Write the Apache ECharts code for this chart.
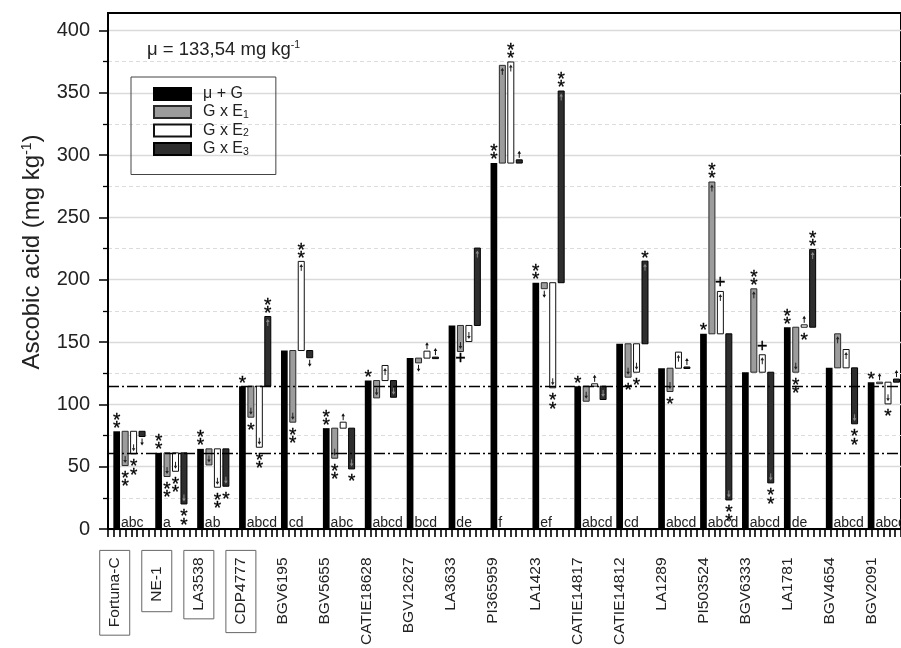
<!DOCTYPE html>
<html><head><meta charset="utf-8">
<script src="https://cdn.jsdelivr.net/npm/echarts@6/dist/echarts.min.js"></script>
<style>html,body{margin:0;padding:0;background:#fff}#c{width:901px;height:648px}</style>
</head><body><div id="c"></div><script>
// ---------------- data ----------------
const genotypes = ['Fortuna-C','NE-1','LA3538','CDP4777','BGV6195','BGV5655','CATIE18628','BGV12627','LA3633','PI365959','LA1423','CATIE14817','CATIE14812','LA1289','PI503524','BGV6333','LA1781','BGV4654','BGV2091'];
const checks = ['Fortuna-C','NE-1','LA3538','CDP4777'];
// mu + G (mg/kg)
const muG  = [78.4, 61.1, 64.3, 114.6, 143.2, 80.9, 119.1, 137.1, 163.3, 293.6, 197.6, 114.6, 148.6, 129.0, 156.6, 125.8, 161.9, 129.3, 117.8];
// G x E deviations from mu + G
const gxe1 = [-27.5, -19.0, -12.9, -24.9, -57.5, -24.1, -13.9, -3.8, -20.9, 78.4, -4.8, -12.1, -26.8, -18.7, 121.8, 66.9, -36.1, 27.3, 0];
const gxe2 = [-18.1, -14.8, -30.8, -49.0, 71.5, 4.8, 12.1, 5.6, -12.9, 81.1, -84.3, 1.9, -22.8, 12.9, 34.0, 14.0, 1.9, 14.7, -17.4];
const gxe3 = [-4.2, -41.0, -30.0, 55.9, -5.8, -32.7, -13.4, 0.8, 62.1, 2.6, 153.8, -10.7, 66.3, 1.0, -133.3, -88.8, 62.4, -44.9, 2.5];
// significance marks
const sigG = ['**','**','**','*','','**','*','','','**','**','*','','','*','','**','','*'];
const sig1 = ['**','**','','*','**','**','','','+','','','','*','*','**','**','**','',''];
const sig2 = ['**','**','**','**','**','','','','','**','**','','*','','+','+','*','','*'];
const sig3 = ['','**','*','**','','*','','','','','**','','*','','**','**','**','**',''];
// Tukey groups
const groups = ['abc','a','ab','abcd','cd','abc','abcd','bcd','de','f','ef','abcd','cd','abcd','abcd','abcd','de','abcd','abcd'];
// reference lines (check genotypes NE-1 and CDP4777)
const refLines = [muG[1], muG[3]];
const yTickValues = [0, 50, 100, 150, 200, 250, 300, 350, 400];
const yMinorTickValues = [25, 75, 125, 175, 225, 275, 325, 375];
const muText = 'μ = 133,54 mg kg';

// ---------------- layout / style ----------------
const FONT = 'Liberation Sans, Arial, Helvetica, sans-serif';
const GROUP0 = 1.49, GROUP_STEP = 7.188, BAR_STEP = 1.45;
const BAR_W = [1.15, 1.03, 1.03, 1.03];
const STAR_SIZE = 19;

const seriesDefs = [
  {name: 'μ + G',  vals: muG,  sig: sigG, fill: '#000000', stroke: '#000000', arrow: '#000'},
  {name: 'G x E1', vals: gxe1, sig: sig1, fill: '#9c9c9c', stroke: '#2a2a2a', arrow: '#222'},
  {name: 'G x E2', vals: gxe2, sig: sig2, fill: '#ffffff', stroke: '#111111', arrow: '#222'},
  {name: 'G x E3', vals: gxe3, sig: sig3, fill: '#2e2e2e', stroke: '#000000', arrow: '#8a8a8a'}
];

function textEl(t, x, y, size) {
  return {type: 'text', x: x, y: y, z2: 5, style: {text: t, fontFamily: FONT, fontSize: size, fill: '#000', stroke: '#000', lineWidth: 0.3, align: 'center', verticalAlign: 'middle'}};
}
function marks(str, cx, yEdge, dir) {
  const out = [];
  if (!str) return out;
  if (str === '+') {
    out.push(textEl('+', cx, dir < 0 ? yEdge - 8 : yEdge + 7.5, 18));
  } else {
    for (let j = 0; j < str.length; j++) {
      const cy = dir < 0 ? yEdge - 7 - 8 * j : yEdge + 9 + 8.5 * j;
      out.push(textEl('*', cx, cy + 0.22 * STAR_SIZE, STAR_SIZE));
    }
  }
  return out;
}
function arrowEls(cx, yTip, dir, len, color) {
  const yTail = yTip - dir * len;
  return [
    {type: 'line', z2: 4, shape: {x1: cx, y1: yTail, x2: cx, y2: yTip - dir * 1.5}, style: {stroke: color, lineWidth: 1}},
    {type: 'polygon', z2: 4, shape: {points: [[cx - 1.8, yTip - dir * 3], [cx + 1.8, yTip - dir * 3], [cx, yTip]]}, style: {fill: color}}
  ];
}

function buildRender(k) {
  const def = seriesDefs[k];
  return function (params, api) {
    const i = params.dataIndex;
    const xv = api.value(0), v0 = api.value(1), v1 = api.value(2);
    const pStart = api.coord([xv, v0]);
    const pEnd = api.coord([xv, v1]);
    const w = api.size([BAR_W[k], 0])[0];
    const cx = pStart[0];
    const yTop = Math.min(pStart[1], pEnd[1]);
    const hpx = Math.abs(pStart[1] - pEnd[1]);
    const children = [{type: 'rect', shape: {x: cx - w / 2, y: yTop, width: w, height: Math.max(hpx, 1.5)},
      style: {fill: def.fill, stroke: def.stroke, lineWidth: k === 0 ? 0 : 1}}];
    const sig = def.sig[i];
    if (k === 0) {
      children.push(...marks(sig, cx, pEnd[1], -1));
      children.push({type: 'text', x: cx + w / 2 + 1, y: pStart[1] + 1, z2: 3,
        style: {text: groups[i], fontFamily: FONT, fontSize: 14, fill: '#222', align: 'left', verticalAlign: 'bottom'}});
    } else {
      const dir = v1 >= v0 ? -1 : 1;
      if (hpx < 8) {
        children.push(...arrowEls(cx, pEnd[1] + dir * 9, dir, 7, '#111'));
        children.push(...marks(sig, cx, pStart[1], -dir));
      } else {
        children.push(...arrowEls(cx, pEnd[1] - dir * 2.5, dir, Math.min(7, hpx - 4), def.arrow));
        children.push(...marks(sig, cx, pEnd[1], dir));
      }
    }
    return {type: 'group', children: children};
  };
}

const series = seriesDefs.map(function (def, k) {
  const data = def.vals.map(function (v, i) {
    const x = GROUP0 + i * GROUP_STEP + k * BAR_STEP;
    return k === 0 ? [x, 0, v] : [x, muG[i], muG[i] + v];
  });
  const s = {
    type: 'custom', name: def.name, xAxisIndex: 0, yAxisIndex: 0,
    renderItem: buildRender(k), data: data, encode: {x: 0, y: [1, 2]},
    itemStyle: {color: def.fill, borderColor: def.stroke, borderWidth: 1},
    clip: false, z: 3
  };
  if (k === 0) {
    s.markLine = {
      silent: true, symbol: ['none', 'none'], label: {show: false}, animation: false,
      lineStyle: {color: '#000', width: 1.3, type: [11, 3, 2, 3]},
      data: refLines.map(function (v) { return {yAxis: v}; })
    };
  }
  return s;
});

const chart = echarts.init(document.getElementById('c'), null, {renderer: 'canvas'});
chart.setOption({
  animation: false,
  backgroundColor: '#fff',
  title: {
    text: '{a|' + muText + '}{b|-1}', left: 147, top: 40, padding: 0,
    textStyle: {fontWeight: 'normal', rich: {
      a: {fontFamily: FONT, fontSize: 18.5, fontWeight: 'normal', color: '#222'},
      b: {fontFamily: FONT, fontSize: 10.5, fontWeight: 'normal', color: '#222', verticalAlign: 'top'}
    }}
  },
  legend: {
    orient: 'vertical', left: 131, top: 77, icon: 'rect',
    itemWidth: 37, itemHeight: 12, itemGap: 2,
    padding: [9, 27, 17, 22],
    borderColor: '#444', borderWidth: 1,
    data: seriesDefs.map(function (d) { return d.name; }),
    formatter: function (name) {
      const m = name.match(/^(G x E)(\d)$/);
      return m ? '{t|' + m[1] + '}{s|' + m[2] + '}' : '{t|' + name + '}';
    },
    textStyle: {color: '#222', fontFamily: FONT, fontSize: 16, rich: {
      t: {fontFamily: FONT, fontSize: 16, color: '#222', lineHeight: 17, padding: [0, 0, 0, 7]},
      s: {fontFamily: FONT, fontSize: 10.5, color: '#222', lineHeight: 17, verticalAlign: 'bottom'}
    }}
  },
  grid: [
    {left: 108, top: 13, width: 794.6, height: 516, show: true, borderColor: '#000', borderWidth: 2, backgroundColor: 'transparent'},
    {left: 93.7, top: 13, width: 799, height: 516, show: false}
  ],
  xAxis: [
    {type: 'value', gridIndex: 0, min: 0, max: 136, interval: 1, position: 'bottom',
      axisLine: {show: true, lineStyle: {color: '#000', width: 2}},
      axisTick: {show: true, length: 8, lineStyle: {color: '#000', width: 1.6}},
      axisLabel: {show: false}, splitLine: {show: false}},
    {type: 'category', gridIndex: 1, data: genotypes, position: 'bottom',
      axisLine: {show: false}, axisTick: {show: false}, splitLine: {show: false},
      axisLabel: {interval: 0, rotate: 90, margin: 25,
        formatter: function (v) {
          if (v === 'NE-1') return '{boxn|' + v + '}';
          return checks.indexOf(v) >= 0 ? '{box|' + v + '}' : '{plain|' + v + '}';
        },
        rich: {
          box: {fontFamily: FONT, fontSize: 15.5, color: '#222', borderColor: '#666', borderWidth: 1, padding: [7, 7, 7, 8]},
          boxn: {fontFamily: FONT, fontSize: 15.5, color: '#222', borderColor: '#666', borderWidth: 1, padding: [7, 16, 7, 10]},
          plain: {fontFamily: FONT, fontSize: 15.5, color: '#222', padding: [0, 7, 0, 0]}
        }}}
  ],
  yAxis: [
    {type: 'value', gridIndex: 0, min: 0, max: 414, interval: 50, position: 'left',
      name: '{a|Ascobic acid (mg kg}{b|-1}{a|)}', nameLocation: 'middle', nameGap: 64, nameRotate: 90,
      nameTextStyle: {padding: [0, 0, 0, 38], rich: {
        a: {fontFamily: FONT, fontSize: 24, color: '#222'},
        b: {fontFamily: FONT, fontSize: 14, color: '#222', verticalAlign: 'top'}
      }},
      axisLine: {show: true, lineStyle: {color: '#000', width: 2}},
      axisTick: {show: true, length: 9, customValues: yTickValues, lineStyle: {color: '#000', width: 1.5}},
      axisLabel: {margin: 18, fontFamily: FONT, fontSize: 20, color: '#222', customValues: yTickValues},
      splitLine: {show: true, lineStyle: {color: '#dadada', width: 1.3}}},
    {type: 'value', gridIndex: 0, min: 0, max: 414, interval: 25, position: 'left',
      axisLine: {show: false},
      axisTick: {show: true, length: 5, customValues: yMinorTickValues, lineStyle: {color: '#000', width: 1.3}},
      axisLabel: {show: false},
      splitLine: {show: true, lineStyle: {color: '#dcdcdc', width: 1, type: [4, 3]}}},
    {type: 'value', gridIndex: 1, min: 0, max: 1, show: false}
  ],
  series: series
});
</script></body></html>
